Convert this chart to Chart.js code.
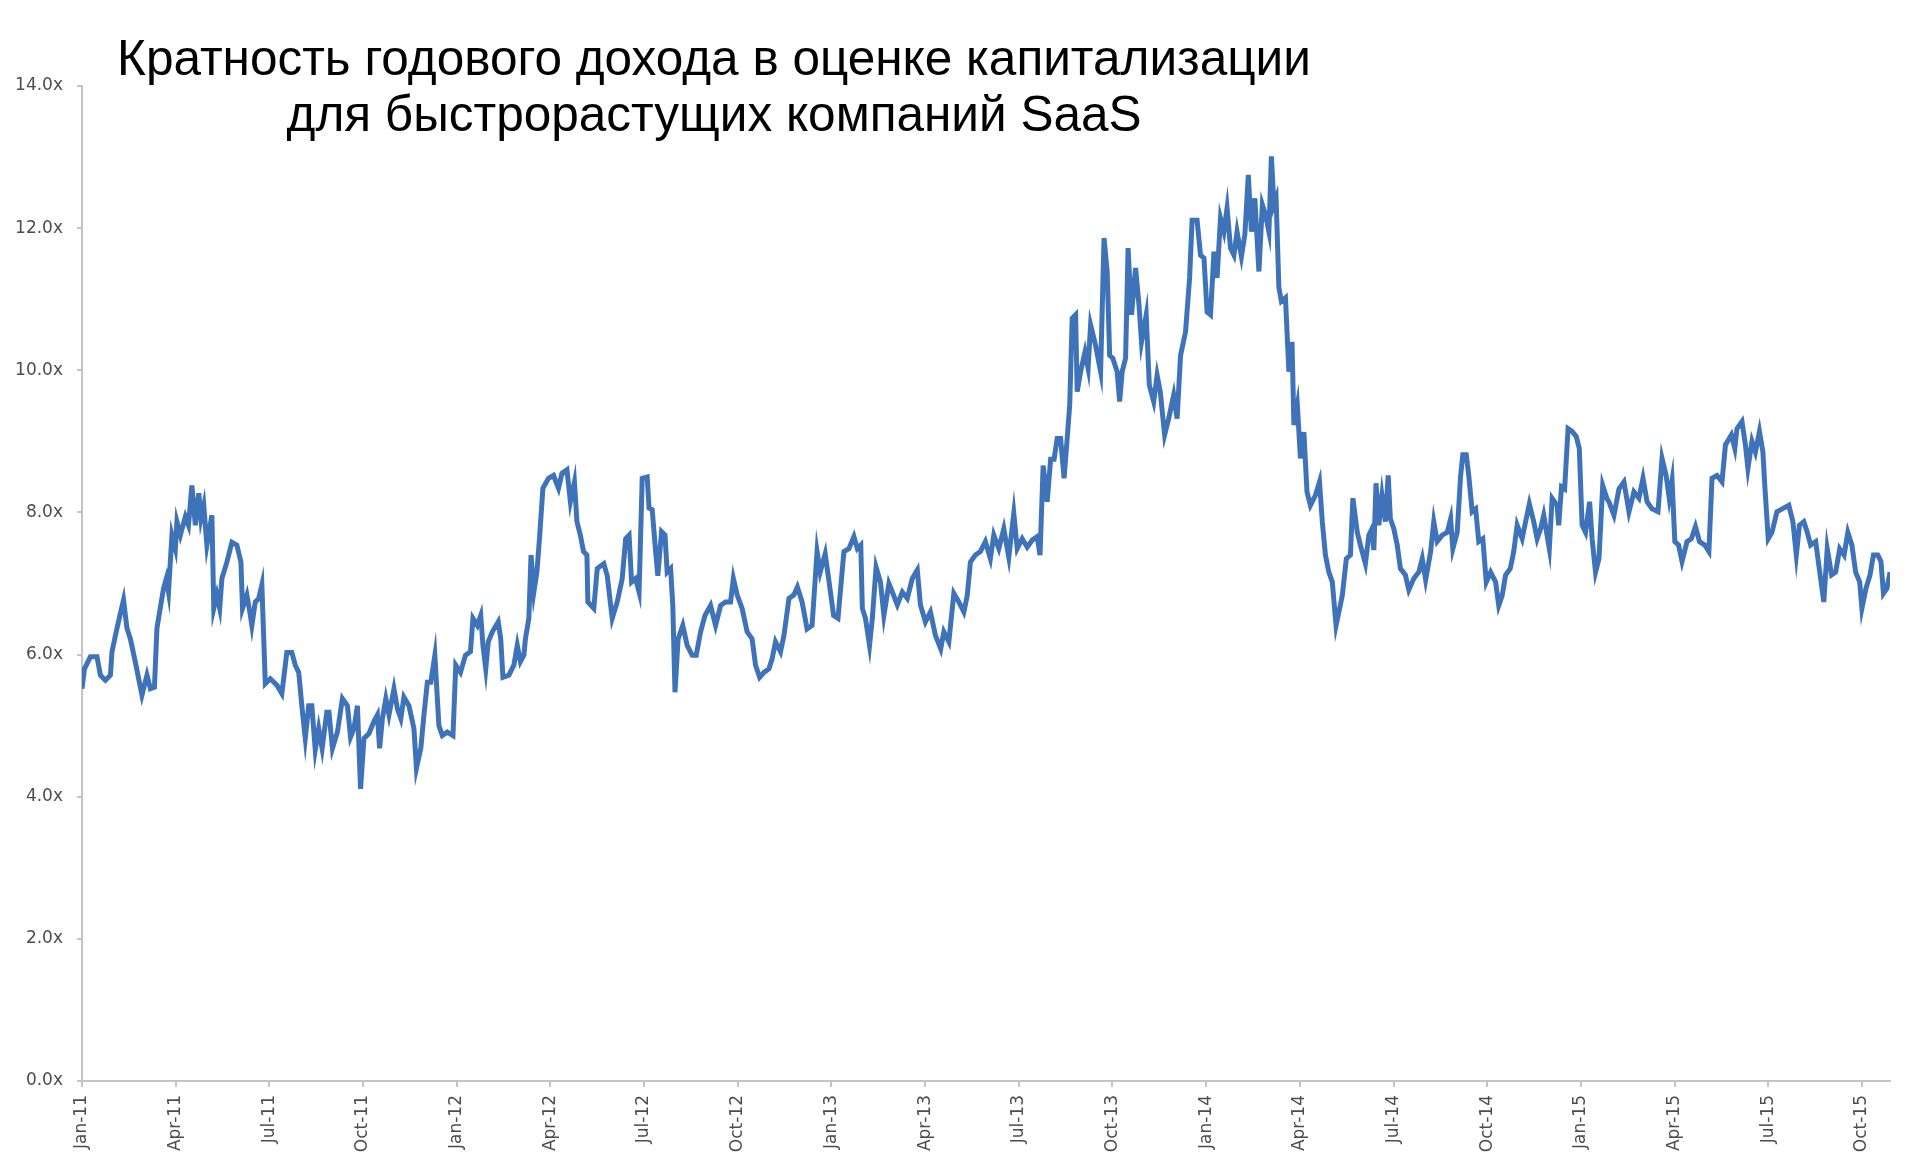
<!DOCTYPE html>
<html>
<head>
<meta charset="utf-8">
<script src="https://cdn.jsdelivr.net/npm/chart.js@4.4.0/dist/chart.umd.min.js"></script>
<style>
  html, body { margin: 0; padding: 0; background: #fff; }
  #wrap { position: relative; width: 1920px; height: 1168px; }
  #title {
    position: absolute; left: 0; top: 30px; width: 1428px;
    text-align: center; font-family: "Liberation Sans", Arial, sans-serif;
    font-size: 49.5px; line-height: 56px; color: #000;
  }
</style>
</head>
<body>
<div id="wrap">
  <canvas id="c" width="1920" height="1168"></canvas>
  <div id="title">Кратность годового дохода в оценке капитализации<br>для быстрорастущих компаний SaaS</div>
</div>
<script>
// months since Jan-11
var months = [
  0.00, 0.08, 0.27, 0.48, 0.59, 0.75, 0.91, 0.96, 1.12, 1.33, 1.44, 1.55, 1.71, 1.92, 2.08, 2.19, 2.32, 2.40, 2.61, 2.70,
  2.77, 2.88, 2.99, 3.04, 3.15, 3.31, 3.41, 3.52, 3.63, 3.74, 3.81, 3.90, 4.00, 4.16, 4.22, 4.32, 4.41, 4.48, 4.64, 4.80,
  4.96, 5.09, 5.14, 5.28, 5.39, 5.44, 5.55, 5.66, 5.76, 5.87, 6.03, 6.24, 6.40, 6.56, 6.72, 6.83, 6.94, 7.04, 7.15, 7.26,
  7.36, 7.47, 7.58, 7.69, 7.84, 7.91, 8.02, 8.18, 8.34, 8.50, 8.60, 8.71, 8.82, 8.92, 9.03, 9.19, 9.35, 9.46, 9.53, 9.62,
  9.73, 9.83, 9.99, 10.10, 10.21, 10.31, 10.47, 10.63, 10.71, 10.85, 10.95, 11.06, 11.17, 11.30, 11.43, 11.54, 11.70, 11.88, 11.97, 12.12,
  12.28, 12.44, 12.52, 12.66, 12.77, 12.84, 12.93, 13.01, 13.14, 13.33, 13.41, 13.48, 13.67, 13.83, 13.94, 14.04, 14.15, 14.20, 14.31, 14.38,
  14.47, 14.57, 14.65, 14.76, 14.94, 15.10, 15.26, 15.37, 15.53, 15.64, 15.77, 15.85, 15.96, 16.06, 16.17, 16.20, 16.39, 16.50, 16.71, 16.82,
  16.98, 17.14, 17.30, 17.41, 17.52, 17.60, 17.73, 17.84, 17.94, 18.10, 18.16, 18.26, 18.37, 18.44, 18.56, 18.67, 18.74, 18.85, 18.92, 18.99,
  19.09, 19.24, 19.38, 19.54, 19.67, 19.81, 19.95, 20.13, 20.29, 20.45, 20.61, 20.77, 20.86, 20.98, 21.14, 21.30, 21.46, 21.57, 21.70, 21.84,
  22.00, 22.10, 22.21, 22.37, 22.48, 22.64, 22.80, 22.91, 23.06, 23.22, 23.38, 23.54, 23.64, 23.80, 23.91, 24.07, 24.21, 24.40, 24.56, 24.72,
  24.83, 24.94, 24.99, 25.09, 25.22, 25.31, 25.43, 25.57, 25.68, 25.84, 25.95, 26.11, 26.27, 26.43, 26.59, 26.75, 26.85, 27.01, 27.17, 27.33,
  27.50, 27.60, 27.76, 27.92, 28.08, 28.24, 28.35, 28.45, 28.61, 28.77, 28.93, 29.09, 29.20, 29.36, 29.52, 29.68, 29.84, 29.95, 30.11, 30.27,
  30.43, 30.59, 30.68, 30.78, 30.91, 31.02, 31.13, 31.23, 31.34, 31.45, 31.55, 31.63, 31.71, 31.82, 31.87, 31.98, 32.12, 32.22, 32.30, 32.46,
  32.62, 32.73, 32.83, 32.91, 33.01, 33.15, 33.23, 33.31, 33.42, 33.50, 33.61, 33.74, 33.85, 33.93, 34.08, 34.18, 34.32, 34.43, 34.53, 34.67,
  34.80, 34.96, 35.07, 35.18, 35.34, 35.47, 35.55, 35.71, 35.82, 35.93, 36.03, 36.14, 36.25, 36.35, 36.46, 36.57, 36.67, 36.78, 36.89, 36.99,
  37.13, 37.24, 37.35, 37.45, 37.56, 37.69, 37.80, 37.90, 38.01, 38.09, 38.17, 38.24, 38.33, 38.41, 38.54, 38.65, 38.75, 38.81, 38.92, 39.02,
  39.13, 39.23, 39.34, 39.50, 39.63, 39.72, 39.82, 39.93, 40.04, 40.16, 40.36, 40.49, 40.62, 40.70, 40.84, 40.94, 41.10, 41.21, 41.31, 41.37,
  41.44, 41.53, 41.63, 41.74, 41.83, 41.90, 42.01, 42.12, 42.22, 42.38, 42.49, 42.65, 42.81, 42.92, 43.03, 43.19, 43.29, 43.40, 43.56, 43.72,
  43.83, 43.90, 44.04, 44.15, 44.22, 44.33, 44.41, 44.52, 44.63, 44.73, 44.86, 44.97, 45.11, 45.27, 45.37, 45.48, 45.59, 45.74, 45.85, 45.96,
  46.12, 46.23, 46.35, 46.49, 46.60, 46.71, 46.81, 46.99, 47.08, 47.24, 47.29, 47.38, 47.48, 47.59, 47.72, 47.85, 47.95, 48.04, 48.15, 48.28,
  48.36, 48.47, 48.58, 48.70, 48.84, 48.90, 49.06, 49.22, 49.38, 49.54, 49.70, 49.86, 49.99, 50.12, 50.28, 50.47, 50.60, 50.73, 50.83, 50.92,
  51.01, 51.13, 51.24, 51.40, 51.54, 51.67, 51.80, 51.97, 52.10, 52.20, 52.36, 52.52, 52.63, 52.82, 52.93, 53.00, 53.16, 53.27, 53.35, 53.48,
  53.59, 53.72, 53.83, 53.89, 54.00, 54.12, 54.28, 54.45, 54.66, 54.79, 54.90, 55.00, 55.14, 55.25, 55.36, 55.52, 55.62, 55.78, 55.89, 56.03,
  56.16, 56.29, 56.43, 56.55, 56.68, 56.80, 56.93, 57.00, 57.13, 57.26, 57.37, 57.51, 57.61, 57.69, 57.80, 57.90
];

// revenue multiple, x
var multiples = [
  5.52, 5.80, 5.97, 5.97, 5.71, 5.64, 5.71, 6.04, 6.37, 6.77, 6.37, 6.22, 5.89, 5.43, 5.71, 5.52, 5.54, 6.37, 6.93, 7.07,
  6.88, 7.68, 7.49, 7.87, 7.68, 7.94, 7.82, 8.38, 7.82, 8.27, 7.91, 8.10, 7.54, 7.96, 6.65, 6.84, 6.65, 7.07, 7.30, 7.58,
  7.54, 7.30, 6.65, 6.84, 6.56, 6.41, 6.74, 6.79, 6.98, 5.59, 5.66, 5.57, 5.45, 6.03, 6.03, 5.85, 5.75, 5.28, 4.82, 5.28,
  5.28, 4.66, 4.96, 4.68, 5.19, 5.19, 4.68, 4.91, 5.38, 5.28, 4.84, 4.96, 5.28, 4.11, 4.82, 4.89, 5.06, 5.15, 4.68, 5.10,
  5.38, 5.15, 5.52, 5.24, 5.10, 5.40, 5.28, 4.96, 4.40, 4.68, 5.15, 5.61, 5.61, 5.99, 5.00, 4.86, 4.91, 4.86, 5.85, 5.75,
  5.99, 6.04, 6.51, 6.41, 6.55, 6.13, 5.80, 6.18, 6.32, 6.46, 6.22, 5.68, 5.71, 5.85, 6.13, 5.90, 5.99, 6.22, 6.51, 7.40,
  6.88, 7.17, 7.63, 8.34, 8.48, 8.52, 8.34, 8.55, 8.60, 8.15, 8.43, 7.87, 7.68, 7.45, 7.40, 6.74, 6.65, 7.21, 7.28, 7.11,
  6.51, 6.74, 7.07, 7.63, 7.68, 7.02, 7.07, 6.88, 8.48, 8.50, 8.06, 8.04, 7.45, 7.11, 7.73, 7.68, 7.16, 7.21, 6.69, 5.47,
  6.22, 6.41, 6.13, 5.99, 5.99, 6.32, 6.55, 6.69, 6.41, 6.69, 6.74, 6.74, 7.07, 6.84, 6.65, 6.32, 6.22, 5.85, 5.68, 5.75,
  5.80, 5.94, 6.18, 6.04, 6.27, 6.79, 6.84, 6.95, 6.74, 6.36, 6.41, 7.45, 7.16, 7.42, 7.07, 6.55, 6.51, 7.45, 7.49, 7.66,
  7.49, 7.54, 6.65, 6.51, 6.13, 6.51, 7.23, 7.02, 6.55, 7.00, 6.88, 6.70, 6.88, 6.79, 7.07, 7.19, 6.70, 6.46, 6.60, 6.27,
  6.08, 6.32, 6.18, 6.86, 6.74, 6.60, 6.83, 7.30, 7.40, 7.45, 7.59, 7.35, 7.68, 7.49, 7.77, 7.37, 7.99, 7.49, 7.63, 7.51,
  7.61, 7.66, 7.40, 8.66, 8.15, 8.75, 8.75, 9.04, 9.04, 8.48, 9.04, 9.51, 10.73, 10.78, 9.70, 9.98, 10.26, 10.03, 10.64, 10.35,
  9.98, 11.86, 11.39, 10.21, 10.17, 9.98, 9.56, 9.98, 10.17, 11.72, 10.78, 11.44, 10.92, 10.40, 10.78, 9.79, 9.56, 9.93, 9.70, 9.09,
  9.32, 9.65, 9.32, 10.21, 10.54, 11.30, 12.11, 12.11, 11.62, 11.58, 10.82, 10.78, 11.67, 11.30, 12.14, 11.95, 12.28, 11.72, 11.62, 11.95,
  11.60, 11.91, 12.75, 11.95, 12.42, 11.39, 12.33, 12.19, 11.95, 13.01, 12.33, 12.42, 11.16, 10.97, 11.02, 9.98, 10.40, 9.23, 9.51, 8.76,
  9.13, 8.29, 8.10, 8.24, 8.43, 7.87, 7.40, 7.16, 7.02, 6.41, 6.83, 7.35, 7.40, 8.20, 7.72, 7.54, 7.28, 7.68, 7.77, 7.47,
  8.41, 7.82, 8.24, 7.87, 8.52, 7.91, 7.77, 7.54, 7.21, 7.12, 6.91, 7.07, 7.16, 7.35, 7.05, 7.45, 7.87, 7.59, 7.68, 7.72,
  7.91, 7.49, 7.72, 8.52, 8.81, 8.81, 8.52, 8.01, 8.05, 7.59, 7.63, 7.02, 7.16, 7.02, 6.69, 6.83, 7.12, 7.21, 7.45, 7.82,
  7.63, 7.87, 8.12, 7.87, 7.63, 7.77, 7.96, 7.49, 8.20, 8.10, 7.82, 8.36, 8.33, 9.18, 9.14, 9.07, 8.90, 7.82, 7.72, 8.15,
  7.63, 7.16, 7.35, 8.38, 8.19, 8.15, 7.96, 8.33, 8.43, 8.01, 8.29, 8.20, 8.48, 8.15, 8.05, 8.01, 8.76, 8.52, 8.20, 8.45,
  7.59, 7.54, 7.31, 7.59, 7.63, 7.80, 7.59, 7.54, 7.45, 8.48, 8.52, 8.43, 8.95, 9.09, 8.90, 9.18, 9.28, 8.95, 8.62, 9.00,
  8.85, 9.14, 8.85, 8.38, 7.63, 7.72, 8.01, 8.05, 8.10, 7.87, 7.40, 7.82, 7.87, 7.72, 7.54, 7.59, 7.26, 6.74, 7.49, 7.12,
  7.16, 7.49, 7.40, 7.72, 7.54, 7.16, 7.02, 6.65, 6.93, 7.12, 7.40, 7.40, 7.31, 6.86, 6.93, 7.16
];

var tickLabels = ["Jan-11", "Apr-11", "Jul-11", "Oct-11", "Jan-12", "Apr-12", "Jul-12", "Oct-12",
  "Jan-13", "Apr-13", "Jul-13", "Oct-13", "Jan-14", "Apr-14", "Jul-14", "Oct-14",
  "Jan-15", "Apr-15", "Jul-15", "Oct-15"];

var pts = months.map(function (m, i) { return { x: m, y: multiples[i] }; });

var axisGray = "#c4c4c4";
var labelGray = "#4d4d4d";

new Chart(document.getElementById("c"), {
  type: "line",
  data: {
    datasets: [{
      data: pts,
      borderColor: "#3f73b9",
      borderWidth: 5,
      pointRadius: 0,
      tension: 0,
      fill: false
    }]
  },
  options: {
    responsive: false,
    animation: false,
    layout: { padding: { top: 86, right: 30, left: 0, bottom: 0 } },
    plugins: { legend: { display: false }, tooltip: { enabled: false } },
    scales: {
      x: {
        type: "linear",
        min: 0,
        max: 57.9,
        afterFit: function (s) { s.height = 87; },
        afterBuildTicks: function (s) {
          s.ticks = tickLabels.map(function (t, i) { return { value: i * 3 }; });
        },
        grid: { drawOnChartArea: false, tickLength: 6, color: axisGray, lineWidth: 2 },
        border: { color: axisGray, width: 2 },
        ticks: {
          autoSkip: false,
          minRotation: 90,
          maxRotation: 90,
          padding: 8,
          color: labelGray,
          font: { family: "'DejaVu Sans', sans-serif", size: 17 },
          callback: function (v) { return tickLabels[Math.round(v / 3)]; }
        }
      },
      y: {
        min: 0,
        max: 14,
        afterFit: function (s) { s.width = 82; },
        grid: { drawOnChartArea: false, tickLength: 5, color: axisGray, lineWidth: 2 },
        border: { color: axisGray, width: 2 },
        ticks: {
          stepSize: 2,
          padding: 14,
          color: labelGray,
          font: { family: "'DejaVu Sans', sans-serif", size: 17 },
          callback: function (v) { return v.toFixed(1) + "x"; }
        }
      }
    }
  }
});
</script>
</body>
</html>
